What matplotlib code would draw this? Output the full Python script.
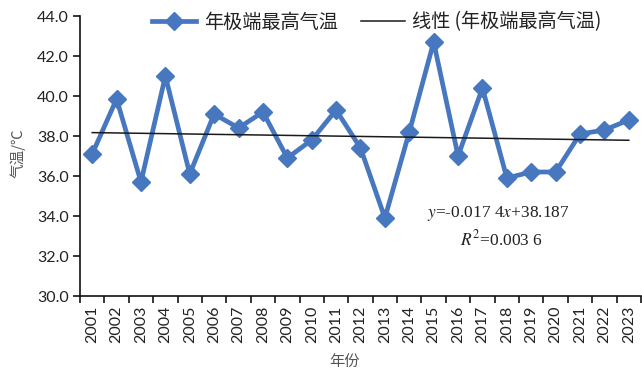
import matplotlib
matplotlib.use("Agg")
import matplotlib.pyplot as plt
import numpy as np

years = [str(y) for y in range(2001, 2024)]
temps = [37.1, 39.85, 35.7, 41.0, 36.1, 39.1, 38.4, 39.2, 36.9, 37.8, 39.3, 37.4,
         33.9, 38.2, 42.7, 37.0, 40.4, 35.9, 36.2, 36.2, 38.1, 38.3, 38.8]
slope = -0.0174
intercept = 38.187
yticks = [30.0, 32.0, 34.0, 36.0, 38.0, 40.0, 42.0, 44.0]

plt.rcParams['font.family'] = ['Lato', 'Noto Sans CJK SC', 'DejaVu Sans']
plt.rcParams['mathtext.fontset'] = 'stix'

W, H = 642, 372
fig = plt.figure(figsize=(W / 100, H / 100), dpi=100)
left, right, bottom, top = 80, 641, 296, 16
ax = fig.add_axes([left / W, 1 - bottom / H, (right - left) / W, (bottom - top) / H])

x = np.arange(1, len(years) + 1)
blue = '#4677BF'
ax.plot(x, temps, color=blue, lw=3.4, marker='D', ms=9.5, mec=blue, mfc=blue,
        label='年极端最高气温', zorder=3)
trend = slope * x + intercept
ax.plot(x, trend, color='#1a1a1a', lw=1.1, label='线性 (年极端最高气温)', zorder=4)

ax.set_xlim(0.5, len(years) + 0.5)
ax.set_ylim(30, 44)
ax.set_yticks(yticks)
ax.set_yticklabels([f'{v:.1f}' for v in yticks], fontsize=11.5, color='#222222')
ax.set_xticks(x)
ax.set_xticklabels(years, rotation=90, fontsize=11.5, color='#222222')
ax.set_xticks(np.arange(0.5, len(years) + 1), minor=True)
ax.tick_params(axis='x', which='major', length=0, pad=7)
ax.tick_params(axis='x', which='minor', length=5, width=1.1, direction='out')
ax.tick_params(axis='y', length=5, width=1.1, direction='out', pad=3)
for s in ['top', 'right']:
    ax.spines[s].set_visible(False)
for s in ['left', 'bottom']:
    ax.spines[s].set_linewidth(1.2)
    ax.spines[s].set_color('#111111')

fig.text(18 / W, 1 - 153 / H, '气温/℃', fontsize=10.5, color='#555555', rotation=90,
         ha='center', va='center', family=['Noto Sans CJK SC', 'DejaVu Sans'])
fig.text(345 / W, 1 - 361 / H, '年份', fontsize=11, color='#555555', ha='center', va='center',
         family=['Noto Sans CJK SC', 'DejaVu Sans'])

leg = ax.legend(loc='center', bbox_to_anchor=(377 / W, 1 - 22 / H), bbox_transform=fig.transFigure,
                ncol=2, frameon=False, handlelength=2.3, columnspacing=1.2,
                handletextpad=0.4, borderpad=0,
                prop={'family': ['Noto Sans CJK SC', 'DejaVu Sans'], 'size': 13.8})
for t in leg.get_texts():
    t.set_color('#222222')

fig.text(498 / W, 1 - 213 / H, r'$\it{y}$=-0.017 4$\it{x}$+38.187', fontsize=12.5,
         family='Liberation Serif', ha='center', va='center', color='#222222')
fig.text(502 / W, 1 - 239 / H, r'$\it{R}^{2}$=0.003 6', fontsize=12.5,
         family='Liberation Serif', ha='center', va='center', color='#222222')

fig.savefig('out.png', dpi=100)
